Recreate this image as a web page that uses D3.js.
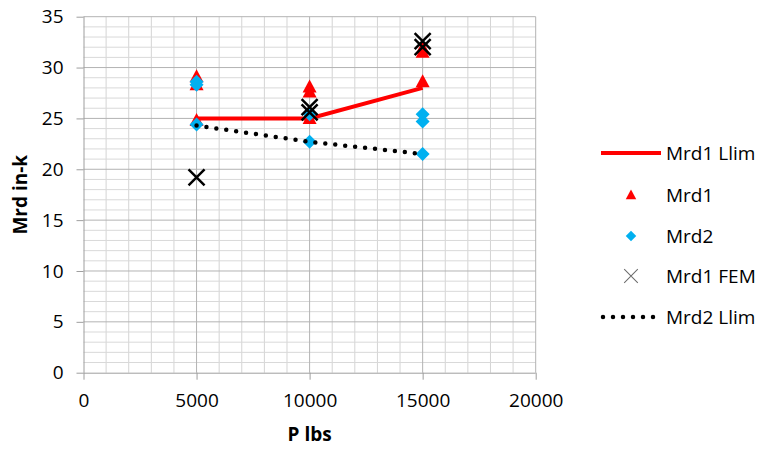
<!DOCTYPE html>
<html>
<head>
<meta charset="utf-8">
<script src="https://cdn.jsdelivr.net/npm/d3@7"></script>
<style>
  body { margin: 0; background: #fff; }
  svg { display: block; font-family: "Open Sans", sans-serif; }
</style>
</head>
<body>
<div class="chart"></div>
<script>
"use strict";

// values, [P lbs, Mrd in-k]
const mrd1Llim = [[5000, 25.0], [10000, 25.0], [15000, 28.0]];
const mrd2Llim = [[5000, 24.3], [10000, 22.7], [15000, 21.5]];
const mrd1 = [
  [5000, 29.1], [5000, 28.3], [5000, 24.8],
  [10000, 28.1], [10000, 27.6], [10000, 25.0],
  [15000, 31.9], [15000, 31.5], [15000, 28.6]
];
const mrd2 = [
  [5000, 28.6], [5000, 28.3], [5000, 24.4],
  [10000, 25.4], [10000, 22.7],
  [15000, 25.4], [15000, 24.7], [15000, 21.5]
];
const mrd1Fem = [
  [5000, 19.2],
  [10000, 26.1], [10000, 25.6],
  [15000, 32.6], [15000, 32.0]
];

const xTicks = [0, 5000, 10000, 15000, 20000];
const yTicks = [0, 5, 10, 15, 20, 25, 30, 35];
const legendNames = ["Mrd1 Llim", "Mrd1", "Mrd2", "Mrd1 FEM", "Mrd2 Llim"];

const width = 763;
const height = 450;

const svg = d3.select(".chart")
  .append("svg")
    .attr("width", width)
    .attr("height", height);

const xScale = d3.scaleLinear()
  .domain([0, 20000])
  .range([83.5, 535.7]);

const yScale = d3.scaleLinear()
  .domain([0, 35])
  .range([372.7, 16.7]);

// minor + major grid
const grid = svg.append("g");
grid.selectAll(".vminor")
  .data(d3.range(1000, 20001, 1000).filter(d => d % 5000 !== 0))
  .join("line")
    .attr("x1", d => xScale(d)).attr("x2", d => xScale(d))
    .attr("y1", yScale(0)).attr("y2", yScale(35))
    .attr("stroke", "#d4d4d4").attr("stroke-width", 1);

grid.selectAll(".hminor")
  .data(d3.range(1, 35, 1).filter(d => d % 5 !== 0))
  .join("line")
    .attr("x1", xScale(0)).attr("x2", xScale(20000))
    .attr("y1", d => yScale(d)).attr("y2", d => yScale(d))
    .attr("stroke", "#d9d9d9").attr("stroke-width", 1);

grid.selectAll(".vmajor")
  .data(xTicks.slice(1))
  .join("line")
    .attr("x1", d => xScale(d)).attr("x2", d => xScale(d))
    .attr("y1", yScale(0)).attr("y2", yScale(35))
    .attr("stroke", "#b3b3b3").attr("stroke-width", 1);

grid.selectAll(".hmajor")
  .data(yTicks.slice(1))
  .join("line")
    .attr("x1", xScale(0)).attr("x2", xScale(20000))
    .attr("y1", d => yScale(d)).attr("y2", d => yScale(d))
    .attr("stroke", "#b3b3b3").attr("stroke-width", 1);

// axes
const xAxis = d3.axisBottom(xScale)
  .tickValues(xTicks)
  .tickFormat(d3.format("d"))
  .tickSize(7)
  .tickPadding(14);

const yAxis = d3.axisLeft(yScale)
  .tickValues(yTicks)
  .tickFormat(d3.format("d"))
  .tickSize(7)
  .tickPadding(13);

svg.append("g")
    .attr("class", "axis-x")
    .attr("transform", `translate(0, ${yScale(0)})`)
    .call(xAxis);

svg.append("g")
    .attr("class", "axis-y")
    .attr("transform", `translate(${xScale(0)}, 0)`)
    .call(yAxis);

svg.selectAll(".axis-x path, .axis-y path, .axis-x line, .axis-y line")
  .attr("stroke", "#9e9e9e");
svg.selectAll(".axis-x text, .axis-y text")
  .attr("font-family", "'Open Sans', sans-serif")
  .attr("font-size", 19)
  .attr("fill", "#000");
// axis domain lines without end caps
svg.select(".axis-x .domain")
  .attr("d", `M${xScale(0)},0.5H${xScale(20000)}`);
svg.select(".axis-y .domain")
  .attr("d", `M0.5,${yScale(0)}V${yScale(35)}`);

// axis titles
svg.append("text")
    .attr("x", xScale(10000))
    .attr("y", 441)
    .attr("text-anchor", "middle")
    .attr("font-size", 19)
    .attr("font-weight", "bold")
    .text("P lbs");

svg.append("text")
    .attr("transform", `translate(27, ${yScale(17.5)}) rotate(-90)`)
    .attr("text-anchor", "middle")
    .attr("font-size", 19)
    .attr("font-weight", "bold")
    .text("Mrd in-k");

// series
const line = d3.line()
  .x(d => xScale(d[0]))
  .y(d => yScale(d[1]));

const plot = svg.append("g");

plot.append("path")
    .attr("d", line(mrd1Llim))
    .attr("fill", "none")
    .attr("stroke", "#ff0000")
    .attr("stroke-width", 4);

const triangle = "M0,-7.5L7,5.5L-7,5.5Z";
const diamond = "M0,-7L7,0L0,7L-7,0Z";
const cross = "M-8,-8L8,8M-8,8L8,-8";

plot.selectAll(".mrd1")
  .data(mrd1)
  .join("path")
    .attr("transform", d => `translate(${xScale(d[0])}, ${yScale(d[1])})`)
    .attr("d", triangle)
    .attr("fill", "#ff0000");

plot.selectAll(".mrd2")
  .data(mrd2)
  .join("path")
    .attr("transform", d => `translate(${xScale(d[0])}, ${yScale(d[1])})`)
    .attr("d", diamond)
    .attr("fill", "#00b0f0");

plot.selectAll(".fem")
  .data(mrd1Fem)
  .join("path")
    .attr("transform", d => `translate(${xScale(d[0])}, ${yScale(d[1])})`)
    .attr("d", cross)
    .attr("fill", "none")
    .attr("stroke", "#000")
    .attr("stroke-width", 2.5);

plot.append("path")
    .attr("d", line(mrd2Llim))
    .attr("fill", "none")
    .attr("stroke", "#000")
    .attr("stroke-width", 4.5)
    .attr("stroke-linecap", "round")
    .attr("stroke-dasharray", "0 10");

// legend
const legend = svg.append("g")
    .attr("transform", "translate(601, 0)");

const rowY = [153, 195, 236, 276, 317];

legend.selectAll("text")
  .data(legendNames)
  .join("text")
    .attr("x", 65)
    .attr("y", (d, i) => rowY[i])
    .attr("dy", "0.35em")
    .attr("font-size", 19)
    .text(d => d);

legend.append("line")
    .attr("x1", 0).attr("x2", 60)
    .attr("y1", rowY[0]).attr("y2", rowY[0])
    .attr("stroke", "#ff0000").attr("stroke-width", 4);

legend.append("path")
    .attr("transform", `translate(30, ${rowY[1]}) scale(0.75)`)
    .attr("d", triangle)
    .attr("fill", "#ff0000");

legend.append("path")
    .attr("transform", `translate(30, ${rowY[2]}) scale(0.75)`)
    .attr("d", diamond)
    .attr("fill", "#00b0f0");

legend.append("path")
    .attr("transform", `translate(30, ${rowY[3]}) scale(0.85)`)
    .attr("d", cross)
    .attr("fill", "none")
    .attr("stroke", "#6b6b6b")
    .attr("stroke-width", 1.2);

legend.append("line")
    .attr("x1", 2).attr("x2", 60)
    .attr("y1", rowY[4]).attr("y2", rowY[4])
    .attr("stroke", "#000").attr("stroke-width", 4.5)
    .attr("stroke-linecap", "round")
    .attr("stroke-dasharray", "0 10");
</script>
</body>
</html>
